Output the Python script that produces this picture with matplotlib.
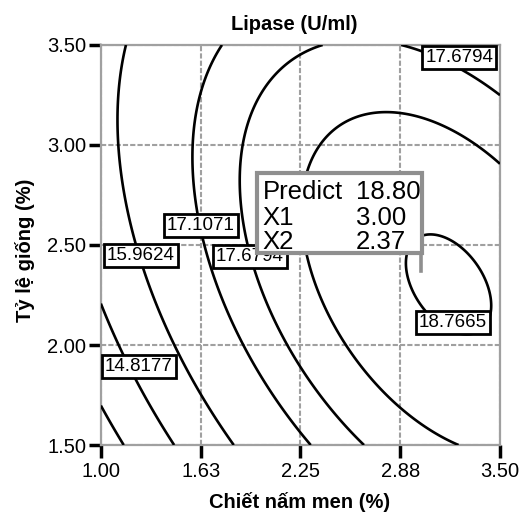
import matplotlib
matplotlib.use("Agg")
import matplotlib.pyplot as plt
from matplotlib.patches import Rectangle
import numpy as np

plt.rcParams['font.family'] = ['Liberation Sans', 'DejaVu Sans']

# quadratic response surface (coded units), coefficients estimated from the plot
x_center, x_half = 2.25, 1.25
y_center, y_half = 2.50, 1.00
b0, bA, bB, bAA, bBB, bAB = 18.216, 1.6947, 0.3163, -1.2631, -0.9238, -0.9164

levels = [13.673, 14.8177, 15.9624, 17.1071, 17.6794, 18.2518, 18.7665]

# contour label positions (X1, X2) and their values
label_vals = [17.6794, 17.1071, 15.9624, 17.6794, 14.8177, 18.7665]
label_x = [3.245, 1.627, 1.251, 1.934, 1.238, 3.205]
label_y = [3.435, 2.595, 2.445, 2.44, 1.895, 2.115]

xticks = [1.00, 1.625, 2.25, 2.875, 3.50]
xtick_labels = ['1.00', '1.63', '2.25', '2.88', '3.50']
yticks = [1.50, 2.00, 2.50, 3.00, 3.50]
ytick_labels = ['1.50', '2.00', '2.50', '3.00', '3.50']

# flag point
pred_x1, pred_x2, pred_val = 3.00, 2.37, 18.80

fig = plt.figure(figsize=(5.2, 5.14), dpi=100)
ax = fig.add_axes([0.194, 0.1342, 0.9615 - 0.194, 0.9125 - 0.1342])

xs = np.linspace(1.0, 3.5, 300)
ys = np.linspace(1.5, 3.5, 300)
X, Y = np.meshgrid(xs, ys)
A = (X - x_center) / x_half
B = (Y - y_center) / y_half
Z = b0 + bA * A + bB * B + bAA * A * A + bBB * B * B + bAB * A * B

ax.contour(X, Y, Z, levels=levels, colors='black', linewidths=1.9, zorder=3)

ax.set_xlim(1.0, 3.5)
ax.set_ylim(1.5, 3.5)
ax.set_xticks(xticks)
ax.set_xticklabels(xtick_labels)
ax.set_yticks(yticks)
ax.set_yticklabels(ytick_labels)
ax.tick_params(axis='both', direction='out', length=9, width=2.5, color='black',
               labelsize=14.5, top=False, right=False)
ax.tick_params(axis='x', pad=3)
ax.tick_params(axis='y', pad=1.5)
ax.grid(True, color='#a0a0a0', linestyle=(0, (2.5, 1)), linewidth=1.5, zorder=1)
for s in ax.spines.values():
    s.set_color('#a0a0a0')
    s.set_linestyle((0, (2.5, 1)))
    s.set_linewidth(1.6)

for v, lx, ly in zip(label_vals, label_x, label_y):
    ax.text(lx, ly, '%.4f' % v, fontsize=13.5, ha='center', va='center', zorder=5,
            bbox=dict(boxstyle='square,pad=0.16', fc='white', ec='black', lw=2.0))

# prediction flag
ax.add_patch(Rectangle((1.977, 2.46), 3.012 - 1.977, 2.86 - 2.46, fc='white',
                       ec='#8f8f8f', lw=3.0, zorder=6))
ax.plot([3.008, 3.008], [2.46, pred_x2], color='#8f8f8f', lw=2.6, zorder=6)
rows = [('Predict', '%.2f' % pred_val, 2.73), ('X1', '%.2f' % pred_x1, 2.60),
        ('X2', '%.2f' % pred_x2, 2.48)]
for name, val, yy in rows:
    ax.text(2.015, yy, name, fontsize=18.5, ha='left', va='baseline', zorder=7)
    ax.text(2.598, yy, val, fontsize=18.5, ha='left', va='baseline', zorder=7)

fig.text(294 / 520, 1 - 30 / 514, 'Lipase (U/ml)', fontsize=14.5, fontweight='bold',
         ha='center', va='baseline')
fig.text(300 / 520, 1 - 508 / 514, 'Chiết nấm men (%)', fontsize=14.5, fontweight='bold',
         ha='center', va='baseline')
fig.text(25 / 520, 1 - 250 / 514, 'Tỷ lệ giống (%)', fontsize=14.5, fontweight='bold',
         ha='center', va='center', rotation=90)

fig.savefig('out.png', dpi=100)
